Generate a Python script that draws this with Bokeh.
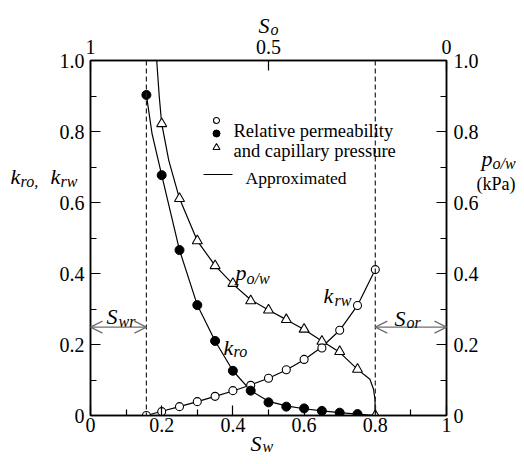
from bokeh.plotting import figure
from bokeh.models import LinearAxis, FixedTicker, Range1d, Label, Arrow, OpenHead, Span, GridBox
from bokeh.embed import file_html
from bokeh.resources import INLINE

FONT = "Liberation Serif"

# ---- data ----
sw_kro = [0.157, 0.2, 0.25, 0.3, 0.35, 0.4, 0.45, 0.5, 0.55, 0.6, 0.65, 0.7, 0.75]
kro = [0.903, 0.677, 0.466, 0.311, 0.21, 0.126, 0.07, 0.037, 0.025, 0.02, 0.013, 0.008, 0.004]

sw_krw = [0.157, 0.2, 0.25, 0.3, 0.35, 0.4, 0.45, 0.5, 0.55, 0.6, 0.65, 0.7, 0.75, 0.8]
krw = [0.0, 0.011, 0.025, 0.039, 0.054, 0.07, 0.085, 0.105, 0.129, 0.158, 0.19, 0.24, 0.31, 0.411]

sw_pc = [0.2, 0.25, 0.3, 0.35, 0.4, 0.45, 0.5, 0.55, 0.6, 0.65, 0.7, 0.75, 0.8]
pc = [0.822, 0.611, 0.492, 0.422, 0.372, 0.323, 0.297, 0.27, 0.243, 0.209, 0.18, 0.13, 0.0]

# approximated curves
fit_kro_x = [0.157, 0.173, 0.2, 0.25, 0.3, 0.35, 0.4, 0.45, 0.5, 0.55, 0.6, 0.65, 0.7, 0.75, 0.8]
fit_kro_y = [0.903, 0.793, 0.677, 0.466, 0.311, 0.21, 0.126, 0.07, 0.04, 0.027, 0.019, 0.013, 0.008, 0.004, 0.0]
fit_krw_x = sw_krw
fit_krw_y = [0.0, 0.012, 0.025, 0.039, 0.054, 0.069, 0.086, 0.105, 0.128, 0.157, 0.193, 0.24, 0.31, 0.411]
fit_pc_x = [0.186, 0.193, 0.2, 0.22, 0.25, 0.3, 0.35, 0.4, 0.45, 0.5, 0.55, 0.6, 0.65, 0.7, 0.75, 0.785, 0.795, 0.799, 0.8]
fit_pc_y = [1.0, 0.9, 0.822, 0.718, 0.611, 0.492, 0.422, 0.37, 0.326, 0.297, 0.27, 0.242, 0.21, 0.178, 0.13, 0.102, 0.074, 0.046, 0.0]

swr = 0.157
sor_line = 0.8
arrow_level = 0.249

k_ticks = [0, 0.2, 0.4, 0.6, 0.8, 1]
k_labels = ["0", "0.2", "0.4", "0.6", "0.8", "1.0"]
minor = [0.1, 0.3, 0.5, 0.7, 0.9]
sw_labels = ["0", "0.2", "0.4", "0.6", "0.8", "1"]
so_ticks = [0, 0.5, 1]
so_labels = ["1", "0.5", "0"]

W, H = 516, 456
FL, FT, FW, FH = 90, 60, 356, 355

p = figure(width=W, height=H, output_backend="svg", toolbar_location=None,
           x_range=Range1d(0, 1), y_range=Range1d(0, 1),
           x_axis_location=None, y_axis_location=None,
           min_border_left=FL, min_border_right=W - FL - FW,
           min_border_top=FT, min_border_bottom=H - FT - FH)
p.xgrid.visible = False
p.ygrid.visible = False
p.outline_line_color = "black"
p.outline_line_width = 1.5
p.background_fill_color = "white"
p.border_fill_color = "white"


def make_axis(ticks, minor_ticks, labels, standoff):
    return LinearAxis(ticker=FixedTicker(ticks=ticks, minor_ticks=minor_ticks),
                      major_label_overrides={t: l for t, l in zip(ticks, labels)},
                      major_tick_in=10, major_tick_out=0, minor_tick_in=6, minor_tick_out=0,
                      major_label_standoff=standoff,
                      major_label_text_font=FONT, major_label_text_font_size="20px",
                      major_label_text_color="black",
                      axis_line_width=1.5, major_tick_line_width=1.2, minor_tick_line_width=1.2)


p.add_layout(make_axis(k_ticks, minor, k_labels, 6), "left")
p.add_layout(make_axis(k_ticks, minor, k_labels, 7), "right")
p.add_layout(make_axis(k_ticks, minor, sw_labels, 2), "below")
p.add_layout(make_axis(so_ticks, [], so_labels, 7), "above")

# dashed residual-saturation lines
for loc in (swr, sor_line):
    p.add_layout(Span(location=loc, dimension="height", line_color="#222222",
                      line_width=1.2, line_dash="5 3"))

gray = "#6e6e6e"
for xs, xe in ((0, swr), (sor_line, 1)):
    p.add_layout(Arrow(start=OpenHead(size=12, line_color=gray, line_width=1.3),
                       end=OpenHead(size=12, line_color=gray, line_width=1.3),
                       x_start=xs, y_start=arrow_level, x_end=xe, y_end=arrow_level,
                       line_color=gray, line_width=1.4))

# approximated curves
p.line(fit_kro_x, fit_kro_y, line_color="black", line_width=1.2)
p.line(fit_krw_x, fit_krw_y, line_color="black", line_width=1.2)
p.line(fit_pc_x, fit_pc_y, line_color="black", line_width=1.2)

# measured points
p.scatter(sw_pc, pc, marker="triangle", size=10, fill_color="white", line_color="black", line_width=1.1)
p.scatter(sw_krw, krw, marker="circle", size=8, fill_color="white", line_color="black", line_width=1.1)
p.scatter(sw_kro, kro, marker="circle", size=9, fill_color="black", line_color="black")

# transparent overlay figure; its frame is aligned with p's frame, and the
# axis titles live in its (otherwise empty) side panels so they are not clipped
q = figure(width=W, height=H, output_backend="svg", toolbar_location=None,
           x_range=Range1d(0, 1), y_range=Range1d(0, 1),
           x_axis_location=None, y_axis_location=None, min_border=0,
           outline_line_color=None, background_fill_color=None, border_fill_color=None)
q.xgrid.visible = False
q.ygrid.visible = False


def px(xp):
    return (xp - FL) / FW


def py(yp):
    return (FT + FH - yp) / FH


def lab(fig, xp, yp, text, size, italic=False, side="center"):
    fig.add_layout(Label(x=px(xp), y=py(yp), text=text, text_font=FONT,
                         text_font_size=f"{size}px",
                         text_font_style="italic" if italic else "normal",
                         text_align="left", text_baseline="alphabetic", text_color="black"),
                   side)


def sub_in(xp, yp, main, subtxt, dx=10, dy=4, main_size=22, sub_size=16):
    lab(p, xp, yp, main, main_size, italic=True)
    lab(p, xp + dx, yp + dy, subtxt, sub_size, italic=True)


# legend (drawn by hand to match the layout)
p.scatter([px(216)], [py(120)], marker="circle", size=6, fill_color="white", line_color="black", line_width=1.1)
p.scatter([px(216)], [py(133)], marker="circle", size=7, fill_color="black", line_color="black")
p.scatter([px(216)], [py(147)], marker="triangle", size=7, fill_color="white", line_color="black", line_width=1.1)
p.line([px(203), px(232)], [py(174), py(174)], line_color="black", line_width=1.2)
lab(p, 233, 130, "Relative permeability", 18.5)
lab(p, 233, 150, "and capillary pressure", 18.5)
lab(p, 245, 177, "Approximated", 17.5)

# curve labels
sub_in(223, 347, "k", "ro", dx=10, dy=4)
sub_in(235, 272, "p", "o/w", dx=11, dy=6)
sub_in(323, 295, "k", "rw", dx=11, dy=5)
sub_in(106, 316, "S", "wr", dx=12, dy=5)
sub_in(394, 318, "S", "or", dx=12, dy=4)

# axis titles (in the overlay's side panels, distributed to stay within the borders)
lab(q, 10, 176, "k", 22, True, "left")
lab(q, 20, 181, "ro,", 16, True, "left")
lab(q, 50, 176, "k", 22, True, "left")
lab(q, 60, 181, "rw", 16, True, "left")
lab(q, 481, 158, "p", 22, True, "left")
lab(q, 492, 163, "o/w", 16, True, "right")
lab(q, 476, 183, "(kPa)", 18, False, "right")
lab(q, 258, 25, "S", 22, True, "above")
lab(q, 270, 29, "o", 16, True, "above")
lab(q, 250, 443, "S", 22, True, "below")
lab(q, 262, 446, "w", 16, True, "left")

layout = GridBox(children=[(p, 0, 0), (q, 0, 0)])
open("out.html", "w").write(file_html(layout, INLINE))
